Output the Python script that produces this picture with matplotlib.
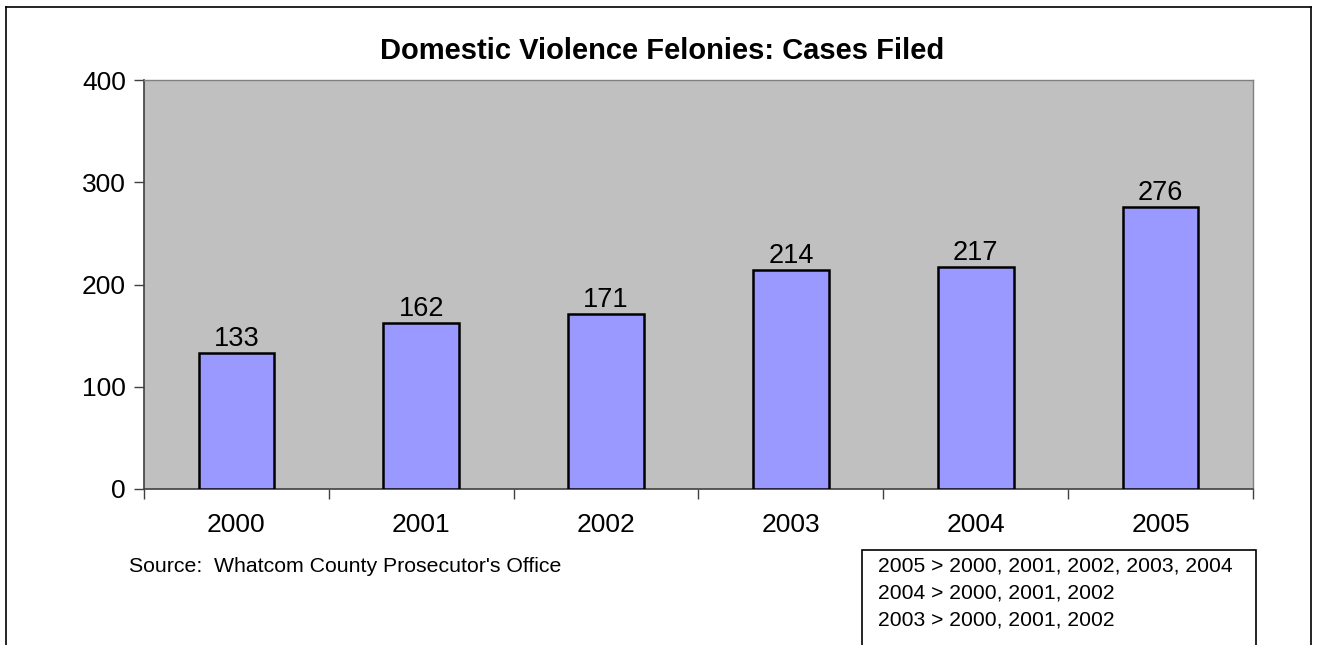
import matplotlib
matplotlib.use("Agg")
import matplotlib.pyplot as plt
from matplotlib.patches import Rectangle
from matplotlib.lines import Line2D

plt.rcParams['font.family'] = ['Liberation Sans', 'DejaVu Sans']

years = ["2000", "2001", "2002", "2003", "2004", "2005"]
cases = [133, 162, 171, 214, 217, 276]
yticks = [0, 100, 200, 300, 400]
title = "Domestic Violence Felonies: Cases Filed"
source = "Source:  Whatcom County Prosecutor's Office"
notes = ["2005 > 2000, 2001, 2002, 2003, 2004",
         "2004 > 2000, 2001, 2002",
         "2003 > 2000, 2001, 2002"]

W, H = 1317, 645
fig = plt.figure(figsize=(W / 100, H / 100), dpi=100)
fig.patch.set_facecolor('white')

def fx(px):
    return px / W

def fy(py):
    return 1 - py / H

ax = fig.add_axes([fx(144), fy(489), fx(1253) - fx(144), fy(80) - fy(489)])
ax.set_facecolor('#C0C0C0')
x = list(range(len(years)))
bars = ax.bar(x, cases, width=0.41, color='#9999FF', edgecolor='black', linewidth=1.8, zorder=3)
for xi, v in zip(x, cases):
    ax.text(xi, v + 1, str(v), ha='center', va='bottom', fontsize=19.5)

ax.set_xlim(-0.5, len(years) - 0.5)
ax.set_ylim(0, 400)
ax.set_yticks(yticks)
ax.set_yticklabels([str(t) for t in yticks], fontsize=19)
ax.set_xticks([i - 0.5 for i in range(len(years) + 1)])
ax.set_xticklabels([])
ax.set_xticks(x, minor=True)
ax.set_xticklabels(years, minor=True, fontsize=19)
ax.tick_params(axis='x', which='minor', length=0, pad=17)
ax.tick_params(axis='x', which='major', length=7, width=1, color='#404040', direction='out')
ax.tick_params(axis='y', length=7, width=1, color='#404040', direction='out', pad=6)
for s in ['top', 'right']:
    ax.spines[s].set_color('#808080')
    ax.spines[s].set_linewidth(1)
for s in ['left', 'bottom']:
    ax.spines[s].set_color('#404040')
    ax.spines[s].set_linewidth(1.2)

fig.text(fx(662), fy(51), title, ha='center', va='center', fontsize=21, fontweight='bold')
fig.text(fx(129), fy(566), source, ha='left', va='center', fontsize=15.3)

# notes box
fig.add_artist(Rectangle((fx(862), fy(650)), fx(1256) - fx(862), fy(550) - fy(650),
                         transform=fig.transFigure, facecolor='white', edgecolor='black', linewidth=1.2))
for i, line in enumerate(notes):
    fig.text(fx(878), fy(566 + 27 * i), line, ha='left', va='center', fontsize=15.2)

# outer frame
for (x0, y0, x1, y1) in [(6, 7, 1311, 7), (6, 7, 6, 650), (1311, 7, 1311, 650)]:
    fig.add_artist(Line2D([fx(x0), fx(x1)], [fy(y0), fy(y1)], transform=fig.transFigure,
                          color='black', linewidth=1.2))

fig.savefig('out.png', dpi=100)
